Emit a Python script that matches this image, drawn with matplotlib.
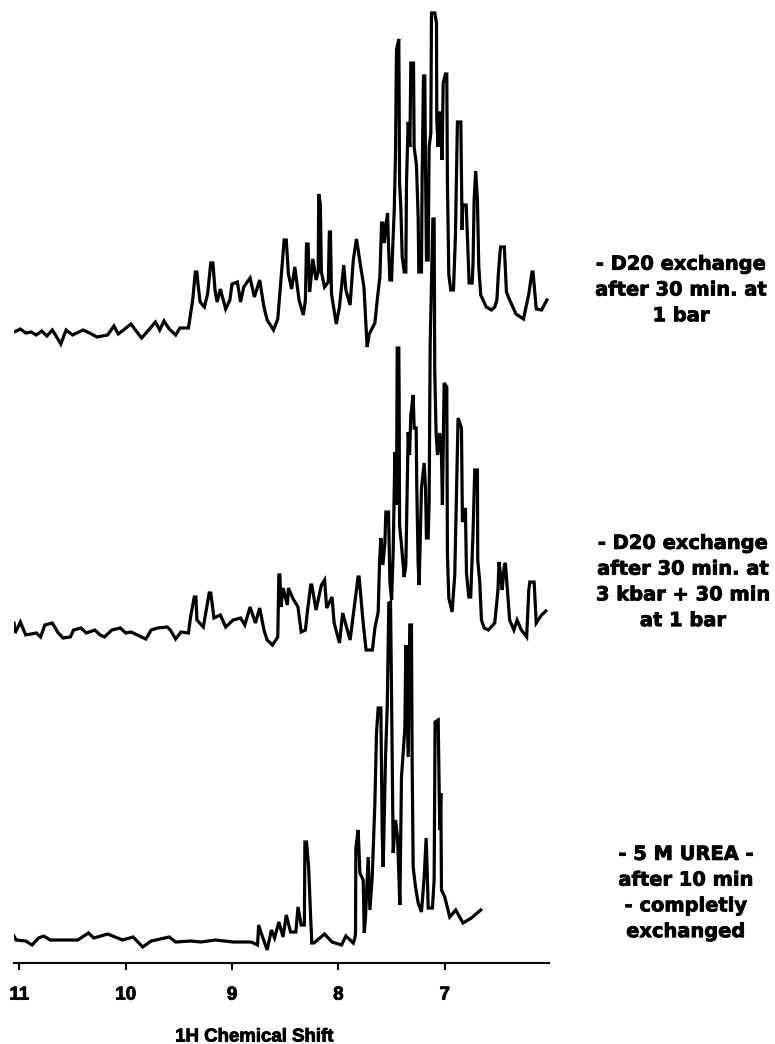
import matplotlib
matplotlib.use("Agg")
import matplotlib.pyplot as plt
import matplotlib.patheffects as pe

W, H = 775, 1044

shift_a = [11.05,10.99,10.94,10.89,10.84,10.79,10.74,10.69,10.66,10.61,10.56,10.50,10.40,10.34,10.27,10.17,10.11,10.07,10.02,9.95,9.88,9.85,9.80,9.72,9.68,9.64,9.59,9.53,9.49,9.41,
9.39,9.37,9.345,9.33,9.32,9.30,9.26,9.23,9.20,9.18,9.16,9.14,9.11,9.06,9.02,9.00,8.95,8.92,8.89,8.83,8.79,8.74,8.70,8.67,8.61,8.57,8.54,8.51,8.49,8.47,8.44,8.41,8.37,8.33,8.31,8.30,8.285,8.27,8.24,8.21,8.19,8.185,8.17,8.16,8.13,8.095,8.085,8.075,8.065,8.02,7.99,7.95,7.93,7.89,7.86,7.83,7.79,7.76,7.73,7.71,
7.657,7.632,7.610,7.594,7.582,7.569,7.554,7.538,7.529,7.516,7.500,7.491,7.475,7.463,7.454,7.432,7.425,7.413,7.400,7.381,7.366,7.360,7.344,7.328,7.319,7.294,7.288,7.266,7.250,7.244,7.219,7.213,7.200,7.188,7.181,7.172,7.156,7.147,7.131,7.125,7.094,7.078,7.075,7.062,7.056,7.031,7.025,7.015,6.993,6.981,6.975,6.962,6.943,6.918,6.900,6.881,6.849,6.837,6.831,6.799,6.787,6.771,6.743,6.734,6.724,6.709,6.693,6.680,6.662,6.640,
6.61,6.56,6.53,6.51,6.495,6.48,6.475,6.44,6.42,6.39,6.33,6.26,6.21,6.18,6.17,6.15,6.14,6.09,6.04]
intensity_a = [0,3,-1,0,-3,1,-4,2,-3,-12,2,-3,2,-1,-5,-3,6,-2,2,8,-2,-6,0,10,2,11,3,-3,4,4,
18,32,60,60,48,30,25,38,69,69,42,30,43,23,32,48,50,30,45,54,35,52,25,12,2,13,52,92,92,58,43,65,32,17,32,88,88,40,73,52,60,138,128,60,45,50,100,100,38,8,25,67,42,27,72,93,65,45,-15,-2,
9,35,55,109,109,89,105,119,87,52,52,80,122,179,282,293,150,124,75,60,60,149,210,185,269,269,185,167,114,60,60,152,256,256,165,72,72,185,199,319,319,309,212,185,219,219,172,249,258,258,149,57,42,42,95,210,210,102,127,127,95,49,49,69,132,161,132,65,37,32,
25,22,25,32,60,80,85,85,40,32,18,13,38,60,60,35,23,22,32]

shift_b = [11.05,11.04,10.99,10.94,10.84,10.80,10.76,10.69,10.64,10.59,10.52,10.49,10.42,10.37,10.29,10.24,10.20,10.13,10.05,10.00,9.95,9.81,9.76,9.70,9.61,9.58,9.53,9.48,9.41,9.39,9.355,9.34,9.33,9.27,9.215,9.20,9.17,9.11,9.06,8.99,8.92,8.88,8.83,8.78,8.74,8.70,8.67,8.62,8.57,8.56,8.55,8.54,8.52,8.48,8.47,8.43,8.38,8.35,8.31,8.29,8.26,8.25,8.21,8.16,8.13,8.11,8.06,8.04,7.99,7.96,7.89,7.86,7.815,7.805,7.77,7.74,7.68,
7.657,7.626,7.613,7.601,7.582,7.563,7.554,7.529,7.516,7.500,7.485,7.469,7.454,7.447,7.432,7.429,7.425,7.407,7.382,7.366,7.344,7.331,7.319,7.297,7.288,7.269,7.263,7.250,7.241,7.219,7.194,7.181,7.172,7.156,7.147,7.137,7.112,7.100,7.094,7.081,7.068,7.047,7.031,7.022,7.006,6.981,6.975,6.962,6.931,6.906,6.887,6.875,6.843,6.834,6.806,6.796,6.774,6.756,6.734,6.718,6.693,6.690,6.671,6.655,6.630,
6.59,6.53,6.50,6.49,6.47,6.46,6.44,6.43,6.39,6.35,6.32,6.28,6.23,6.21,6.20,6.16,6.14,6.09,6.05]
intensity_b = [7,-3,8,-5,-3,-7,5,7,-2,-8,-7,0,2,-3,0,-5,-7,0,2,-3,-2,-9,0,2,3,0,-9,-2,-3,13,33,33,10,3,37,37,12,15,3,10,12,5,23,7,22,0,-10,-15,-7,55,55,23,42,25,42,32,23,-2,0,20,45,45,20,45,50,22,33,7,-13,17,-10,15,53,53,10,-20,-20,
2,18,68,92,65,87,118,118,48,30,78,178,125,282,282,233,105,85,53,65,198,175,215,235,202,202,142,65,45,142,167,142,92,92,128,287,411,411,258,195,175,197,175,125,247,243,75,32,18,55,150,212,202,108,122,57,33,33,98,160,160,70,48,10,2,
0,7,40,68,50,40,65,67,10,0,10,0,-7,40,48,48,7,15,19]

shift_c = [11.05,11.03,10.94,10.88,10.82,10.77,10.71,10.45,10.35,10.30,10.17,10.03,9.93,9.84,9.76,9.59,9.53,9.39,9.29,9.16,8.99,8.82,8.76,8.75,8.72,8.67,8.63,8.60,8.56,8.52,8.49,8.45,8.40,8.38,8.35,8.32,8.315,8.30,8.28,8.26,8.25,8.23,8.13,8.06,7.97,7.93,7.86,7.845,
7.839,7.836,7.814,7.798,7.767,7.757,7.745,7.720,7.704,7.682,7.657,7.642,7.626,7.601,7.588,7.579,7.557,7.541,7.526,7.510,7.501,7.485,7.463,7.444,7.422,7.407,7.375,7.366,7.344,7.329,7.313,7.307,7.297,7.275,7.250,7.219,7.194,7.175,7.163,7.156,7.116,7.100,7.091,7.062,7.047,7.037,7.031,7.000,6.953,6.897,6.828,6.750,6.662]
intensity_c = [4,0,-1,-5,2,4,0,0,7,2,6,0,3,-7,-1,3,-2,-1,-2,0,-2,-2,-5,15,5,-10,10,2,18,3,25,8,8,33,15,15,98,98,73,20,-3,-3,6,-2,-5,4,-3,2,
7,92,110,67,60,7,23,83,30,63,137,207,232,232,107,73,183,233,337,338,252,87,120,103,35,163,212,295,183,315,315,180,73,53,37,28,62,102,62,32,32,60,218,220,110,147,50,43,23,30,17,22,30]

offset_a, offset_b, offset_c = 631, 333, 23
tick_values = [11, 10, 9, 8, 7]
tick_labels = ["11", "10", "9", "8", "7"]
axis_label = "1H Chemical Shift"
caption_a = "- D20 exchange\nafter 30 min. at\n1 bar"
caption_b = "- D20 exchange\nafter 30 min. at\n3 kbar + 30 min\nat 1 bar"
caption_c = "- 5 M UREA -\nafter 10 min\n- completly\nexchanged"

fig = plt.figure(figsize=(W / 100, H / 100), dpi=100, facecolor="white")
x0, x1, ybase = 14, 549, 963
ax = fig.add_axes([x0 / W, (H - ybase) / H, (x1 - x0) / W, ybase / H])
ax.set_xlim(11.05, 6.02)
ax.set_ylim(0, ybase)
ax.patch.set_visible(False)

for s, i, o in [(shift_a, intensity_a, offset_a),
                (shift_b, intensity_b, offset_b),
                (shift_c, intensity_c, offset_c)]:
    ax.plot(s, [v + o for v in i], color="black", lw=2.3, solid_joinstyle="miter")

for name in ["top", "left", "right"]:
    ax.spines[name].set_visible(False)
ax.spines["bottom"].set_linewidth(1.5)
ax.set_yticks([])
ax.set_xticks(tick_values)
ax.set_xticklabels(tick_labels, fontfamily="Liberation Sans", fontweight="bold", fontsize=13.5)
ax.tick_params(axis="x", length=5, width=1.5, pad=12)
ax.set_xlabel(axis_label, fontfamily="Liberation Sans", fontweight="bold", fontsize=13.4)
ax.xaxis.set_label_coords((254 - x0) / (x1 - x0), -(1037 - ybase) / ybase, transform=ax.transAxes)
ax.xaxis.label.set_verticalalignment("center")
heavy = [pe.withStroke(linewidth=0.6, foreground="black")]
ax.xaxis.label.set_path_effects(heavy)
for lab in ax.get_xticklabels():
    lab.set_path_effects(heavy)

for txt, cx, cy in [(caption_a, 681, 290), (caption_b, 683, 582), (caption_c, 686, 893)]:
    fig.text(cx / W, 1 - cy / H, txt, ha="center", va="center", multialignment="center",
             family="DejaVu Sans", fontweight="bold", fontsize=14, linespacing=1.45,
             color="black", path_effects=heavy)

fig.savefig("out.png", dpi=100, facecolor="white")
